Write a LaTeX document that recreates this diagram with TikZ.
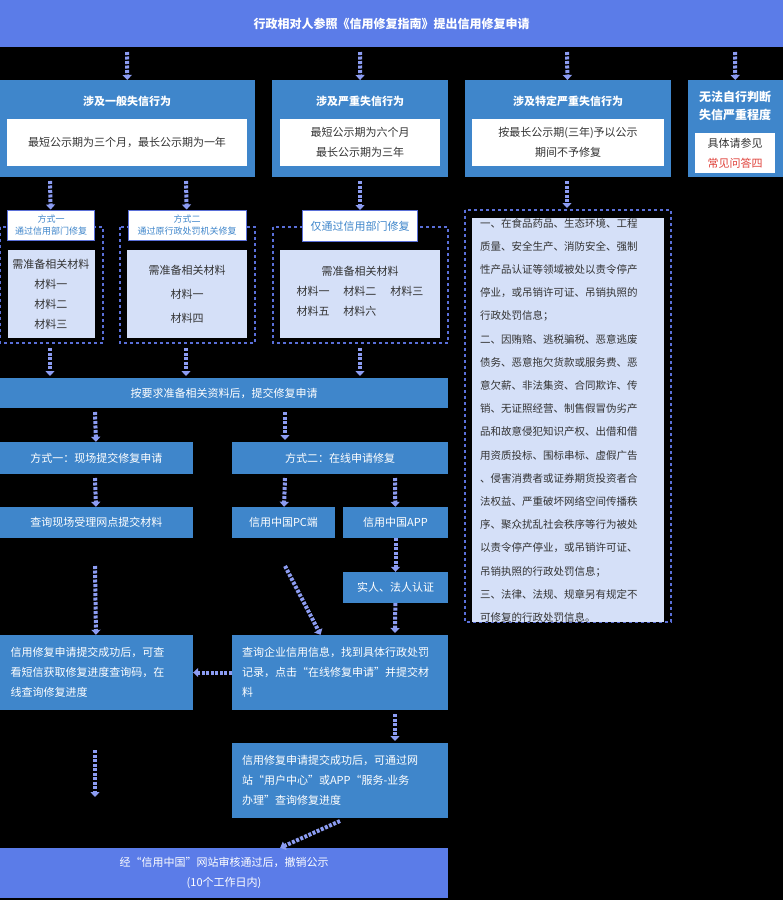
\documentclass[tikz,border=0pt]{standalone}
\usepackage{fontspec}
\setmainfont{Noto Sans CJK SC}
\usetikzlibrary{arrows.meta}
\definecolor{banner}{HTML}{5B7CE8}
\definecolor{steel}{HTML}{3F86CB}
\definecolor{pale}{HTML}{D5E0F8}
\definecolor{flow}{HTML}{8C9CF2}
\definecolor{edge}{HTML}{5A6FD8}
\definecolor{warn}{HTML}{E0413A}
\begin{document}
\begin{tikzpicture}[x=1pt,y=-1pt,
    every node/.style={inner sep=0pt,align=center,font=\fontsize{11}{20}\selectfont},
    head/.style={fill=banner,text=white,font=\fontsize{12}{22}\selectfont\bfseries},
    blk/.style={fill=steel,text=white},
    wht/.style={fill=white,text=black!80},
    lite/.style={fill=pale,text=black!80},
    tag/.style={fill=white,draw=edge,line width=1pt,text=steel,font=\fontsize{9}{12}\selectfont},
    frame/.style={draw=edge,dashed,line width=1.2pt},
    flowto/.style={draw=flow,line width=4pt,dash pattern=on 3pt off 1.5pt,-{Triangle[length=5pt,width=9pt]}},
  ]
  \useasboundingbox[fill=black] (0,0) rectangle (783,900);
  % top banner
  \node[head,minimum width=783,minimum height=47] (start) at (391.5,23.5) {行政相对人参照《信用修复指南》提出信用修复申请};
  % four categories
  \node[blk,minimum width=255,minimum height=97,anchor=north west] (general) at (0,80) {};
  \node[blk,minimum width=176,minimum height=97,anchor=north west] (serious) at (272,80) {};
  \node[blk,minimum width=206,minimum height=97,anchor=north west] (special) at (465,80) {};
  \node[blk,minimum width=95,minimum height=97,anchor=north west] (unsure) at (688,80) {};
  \node[text=white,font=\fontsize{11}{20}\selectfont\bfseries] at (127,101) {涉及一般失信行为};
  \node[text=white,font=\fontsize{11}{20}\selectfont\bfseries] at (360,101) {涉及严重失信行为};
  \node[text=white,font=\fontsize{11}{20}\selectfont\bfseries] at (568,101) {涉及特定严重失信行为};
  \node[text=white,font=\fontsize{12}{18}\selectfont\bfseries] at (735,106) {无法自行判断\\失信严重程度};
  \node[wht,minimum width=240,minimum height=47] (generalT) at (127,142) {最短公示期为三个月，最长公示期为一年};
  \node[wht,minimum width=160,minimum height=47] (seriousT) at (360,142) {最短公示期为六个月\\最长公示期为三年};
  \node[wht,minimum width=192,minimum height=47] (specialT) at (568,142) {按最长公示期(三年)予以公示\\期间不予修复};
  \node[wht,minimum width=80,minimum height=40] (unsureT) at (735,153) {具体请参见\\\textcolor{warn}{常见问答四}};
  \draw[flowto] (127,52) -- (general);
  \draw[flowto] (360,52) -- (serious);
  \draw[flowto] (567,52) -- (special);
  \draw[flowto] (735,52) -- (unsure);
  % materials
  \draw[frame] (0,227) rectangle (103,343);
  \draw[frame] (120,227) rectangle (255,343);
  \draw[frame] (273,227) rectangle (448,343);
  \node[lite,minimum width=87,minimum height=88] (matA) at (51,294) {需准备相关材料\\材料一\\材料二\\材料三};
  \node[lite,minimum width=120,minimum height=88] (matB) at (187,294) {需准备相关材料\\[4pt]材料一\\[4pt]材料四};
  \node[lite,minimum width=160,minimum height=88] (matC) at (360,294) {需准备相关材料\\[4pt]\begin{tabular}{@{}l@{\hspace{14pt}}l@{\hspace{14pt}}l@{}}材料一&材料二&材料三\\材料五&材料六&\end{tabular}};
  \node[tag,minimum width=87,minimum height=30] (wayA) at (51,225) {方式一\\通过信用部门修复};
  \node[tag,minimum width=118,minimum height=30] (wayB) at (187,225) {方式二\\通过原行政处罚机关修复};
  \node[tag,minimum width=115,minimum height=31,font=\fontsize{11}{14}\selectfont] (wayC) at (360,226) {仅通过信用部门修复};
  \draw[flowto] (50,181) -- (wayA);
  \draw[flowto] (186,181) -- (wayB);
  \draw[flowto] (360,181) -- (wayC);
  % special list
  \draw[frame] (465,210) rectangle (671,622);
  \node[lite,minimum width=192,minimum height=397,anchor=north west,text width=176,align=left,inner xsep=8pt,font=\fontsize{10.5}{23.2}\selectfont] (listing) at (472,218) {一、在食品药品、生态环境、工程\\质量、安全生产、消防安全、强制\\性产品认证等领域被处以责令停产\\停业，或吊销许可证、吊销执照的\\行政处罚信息；\\二、因贿赂、逃税骗税、恶意逃废\\债务、恶意拖欠货款或服务费、恶\\意欠薪、非法集资、合同欺诈、传\\销、无证照经营、制售假冒伪劣产\\品和故意侵犯知识产权、出借和借\\用资质投标、围标串标、虚假广告\\、侵害消费者或证券期货投资者合\\法权益、严重破坏网络空间传播秩\\序、聚众扰乱社会秩序等行为被处\\以责令停产停业，或吊销许可证、\\吊销执照的行政处罚信息；\\三、法律、法规、规章另有规定不\\可修复的行政处罚信息。};
  \draw[flowto] (567,181) -- (567,208);
  % submit
  \node[blk,minimum width=448,minimum height=30] (submit) at (224,393) {按要求准备相关资料后，提交修复申请};
  \draw[flowto] (50,348) -- (50,376);
  \draw[flowto] (186,348) -- (186,376);
  \draw[flowto] (360,348) -- (360,376);
  \node[blk,minimum width=193,minimum height=32] (onsite) at (96.5,458) {方式一：现场提交修复申请};
  \node[blk,minimum width=216,minimum height=32] (online) at (340,458) {方式二：在线申请修复};
  \draw[flowto] (95,412) -- (onsite);
  \draw[flowto] (285,412) -- (285,440);
  \node[blk,minimum width=193,minimum height=31] (counter) at (96.5,522.5) {查询现场受理网点提交材料};
  \node[blk,minimum width=103,minimum height=31] (pc) at (283.5,522.5) {信用中国PC端};
  \node[blk,minimum width=105,minimum height=31] (app) at (395.5,522.5) {信用中国APP};
  \draw[flowto] (95,478) -- (counter);
  \draw[flowto] (285,478) -- (pc);
  \draw[flowto] (395,478) -- (app);
  \node[blk,minimum width=105,minimum height=31] (verify) at (395.5,587.5) {实人、法人认证};
  \draw[flowto] (app) -- (verify);
  \node[blk,minimum width=193,minimum height=75,text width=172,align=left] (progA) at (96.5,672.5) {信用修复申请提交成功后，可查\\看短信获取修复进度查询码，在\\线查询修复进度};
  \node[blk,minimum width=216,minimum height=75,text width=196,align=left] (query) at (340,672.5) {查询企业信用信息，找到具体行政处罚\\记录，点击“在线修复申请”并提交材\\料};
  \draw[flowto] (95,566) -- (progA);
  \draw[flowto] (285,566) -- (query);
  \draw[flowto] (verify) -- (395,633);
  \draw[flowto] (query) -- (progA);
  \node[blk,minimum width=216,minimum height=75,text width=196,align=left] (progB) at (340,780.5) {信用修复申请提交成功后，可通过网\\站“用户中心”或APP“服务-业务\\办理”查询修复进度};
  \draw[flowto] (395,714) -- (395,741);
  \node[head,minimum width=448,minimum height=50,font=\fontsize{11}{20}\selectfont] (finish) at (224,873) {经“信用中国”网站审核通过后，撤销公示\\(10个工作日内)};
  \draw[flowto] (95,750) -- (95,797);
  \draw[flowto] (340,821) -- (finish);
\end{tikzpicture}
\end{document}
